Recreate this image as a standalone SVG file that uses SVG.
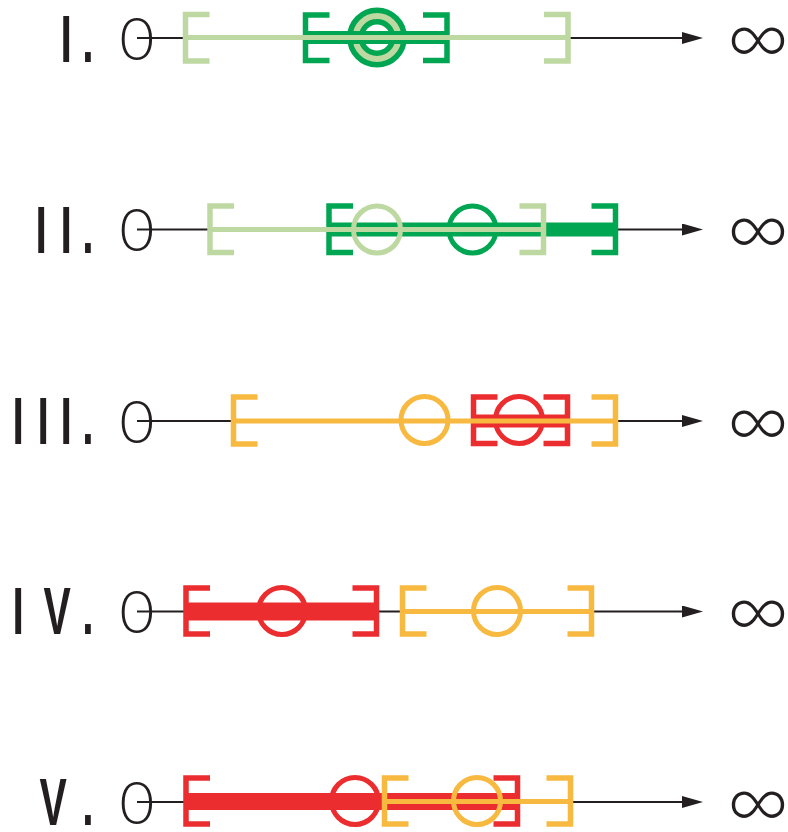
<svg xmlns="http://www.w3.org/2000/svg" width="788" height="832" viewBox="0 0 788 832">
<style>
.bg{fill:#ffffff}
.lbl{font-family:"Liberation Sans",Arial,sans-serif;font-weight:bold;font-size:66px;fill:#231f20}
.zero{font-family:Lato,"Liberation Sans",sans-serif;font-weight:300;font-size:60px;fill:#231f20}
.inf{font-family:Lato,"DejaVu Sans",sans-serif;font-weight:300;font-size:86px;fill:#231f20}
.axis{stroke:#231f20;stroke-width:2;fill:none}
.br{fill:none;stroke-width:5.5;stroke-linejoin:miter}
.ln{stroke-width:5;fill:none}
.cir{fill:none;stroke-width:5}
.lg{stroke:#bed8a2}
.dg{stroke:#00a651}
.ye{stroke:#f7b940}
.rd{stroke:#ec2d2f}
</style>
<defs>
<marker id="arr" markerUnits="userSpaceOnUse" markerWidth="22" markerHeight="12" refX="8" refY="6" orient="auto">
<path d="M0,0 L21,6 L0,12 Z" fill="#231f20"/>
</marker>
</defs>
<rect class="bg" x="0" y="0" width="788" height="832"/>

<g id="connectors">
<line class="axis" x1="137" y1="38" x2="690" y2="38" marker-end="url(#arr)"/>
<line class="axis" x1="137" y1="229.5" x2="690" y2="229.5" marker-end="url(#arr)"/>
<line class="axis" x1="137" y1="421" x2="690" y2="421" marker-end="url(#arr)"/>
<line class="axis" x1="137" y1="611.5" x2="690" y2="611.5" marker-end="url(#arr)"/>
<line class="axis" x1="137" y1="802" x2="690" y2="802" marker-end="url(#arr)"/>
</g>

<!-- labels -->
<g id="label-1"><text class="lbl" transform="scale(0.62,1)" x="97.4 132.7" y="62.5">I.</text></g>
<g id="label-2"><text class="lbl" transform="scale(0.62,1)" x="57.1 97.4 132.7" y="253">II.</text></g>
<g id="label-3"><text class="lbl" transform="scale(0.62,1)" x="20 60.3 97.4 132.7" y="444">III.</text></g>
<g id="label-4"><text class="lbl" transform="scale(0.62,1)" x="20 70.2 132.7" y="634">IV.</text></g>
<g id="label-5"><text class="lbl" transform="scale(0.62,1)" x="63.7 132.7" y="825">V.</text></g>

<!-- zeros and infinities -->
<g id="zero-1"><text class="zero" x="137" y="59.5" text-anchor="middle">0</text></g>
<g id="zero-2"><text class="zero" x="137" y="251" text-anchor="middle">0</text></g>
<g id="zero-3"><text class="zero" x="137" y="442.5" text-anchor="middle">0</text></g>
<g id="zero-4"><text class="zero" x="137" y="633" text-anchor="middle">0</text></g>
<g id="zero-5"><text class="zero" x="137" y="823.5" text-anchor="middle">0</text></g>
<g id="inf-1"><text class="inf" x="758" y="65.5" text-anchor="middle">∞</text></g>
<g id="inf-2"><text class="inf" x="758" y="257" text-anchor="middle">∞</text></g>
<g id="inf-3"><text class="inf" x="758" y="448.5" text-anchor="middle">∞</text></g>
<g id="inf-4"><text class="inf" x="758" y="639" text-anchor="middle">∞</text></g>
<g id="inf-5"><text class="inf" x="758" y="829.5" text-anchor="middle">∞</text></g>

<!-- Row I -->
<g id="row1-outer">
<path class="br lg" d="M209.5,14.5 H185.5 V61 H209.5"/>
<path class="br lg" d="M544,14.5 H568 V61 H544"/>
</g>
<g id="row1-inner">
<path class="br dg" d="M329.5,15 H305.5 V60.5 H329.5"/>
<path class="br dg" d="M423,15 H447 V60.5 H423"/>
<circle cx="377" cy="37.5" r="21.5" fill="none" stroke="#00a651" stroke-width="17"/>
<circle cx="377" cy="37.5" r="21.5" fill="none" stroke="#bed8a2" stroke-width="6"/>
<line class="dg" x1="305.5" y1="37.5" x2="447" y2="37.5" stroke-width="13"/>
</g>
<line class="ln lg" x1="185.5" y1="37.5" x2="568" y2="37.5"/>

<!-- Row II -->
<g id="row2-inner">
<path class="br dg" d="M353,206 H329 V252.5 H353"/>
<path class="br dg" d="M591.5,206 H615.5 V252.5 H591.5"/>
<circle class="cir dg" cx="472.5" cy="229.5" r="23.5"/>
<line class="dg" x1="329" y1="229.5" x2="615.5" y2="229.5" stroke-width="14"/>
</g>
<g id="row2-outer">
<path class="br lg" d="M234,206 H210 V252.5 H234"/>
<path class="br lg" d="M519.5,206 H543.5 V252.5 H519.5"/>
<circle class="cir lg" cx="377" cy="229.5" r="23.5"/>
<line class="ln lg" x1="210" y1="229.5" x2="543.5" y2="229.5"/>
</g>

<!-- Row III -->
<g id="row3-red">
<path class="br rd" d="M497.5,397 H473.5 V443.5 H497.5"/>
<path class="br rd" d="M543.5,397 H567.5 V443.5 H543.5"/>
<circle class="cir rd" cx="519" cy="420" r="23.5"/>
<line class="rd" x1="473.5" y1="421" x2="567.5" y2="421" stroke-width="13"/>
</g>
<g id="row3-yellow">
<path class="br ye" d="M257.5,397 H233.5 V444 H257.5"/>
<path class="br ye" d="M591.5,397 H615.5 V444 H591.5"/>
<circle class="cir ye" cx="424.5" cy="420" r="23.5"/>
<line class="ln ye" x1="233.5" y1="421" x2="615.5" y2="421"/>
</g>

<!-- Row IV -->
<g id="row4-red">
<path class="br rd" d="M210,588 H186 V634 H210"/>
<path class="br rd" d="M352.5,588 H376.5 V634 H352.5"/>
<circle class="cir rd" cx="282" cy="611" r="23.5"/>
<line class="rd" x1="186" y1="611.5" x2="376.5" y2="611.5" stroke-width="18"/>
</g>
<g id="row4-yellow">
<path class="br ye" d="M426.5,588 H402.5 V634 H426.5"/>
<path class="br ye" d="M567.5,588 H591.5 V634 H567.5"/>
<circle class="cir ye" cx="497" cy="611" r="23.5"/>
<line class="ln ye" x1="402.5" y1="611.5" x2="591.5" y2="611.5"/>
</g>

<!-- Row V -->
<g id="row5-red">
<path class="br rd" d="M210,778 H186 V824 H210"/>
<path class="br rd" d="M493.5,778 H517.5 V824 H493.5"/>
<circle class="cir rd" cx="355" cy="801" r="23.5"/>
<line class="rd" x1="186" y1="801.5" x2="517.5" y2="801.5" stroke-width="17"/>
</g>
<g id="row5-yellow">
<path class="br ye" d="M408.5,778 H384.5 V824 H408.5"/>
<path class="br ye" d="M546.5,778 H570.5 V824 H546.5"/>
<circle class="cir ye" cx="477" cy="801" r="23.5"/>
<line class="ln ye" x1="384.5" y1="801.5" x2="570.5" y2="801.5"/>
</g>
</svg>
